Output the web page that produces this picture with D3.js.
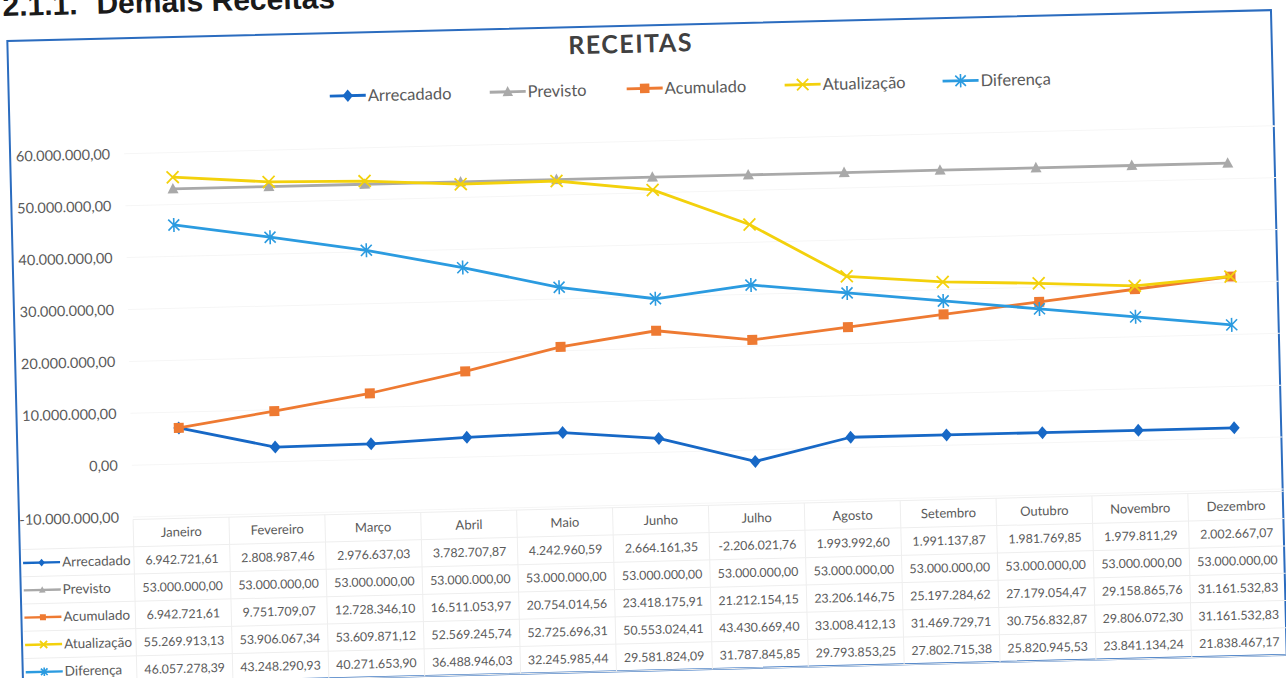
<!DOCTYPE html>
<html><head><meta charset="utf-8">
<script src="https://cdn.jsdelivr.net/npm/d3@7"></script>
<style>body{margin:0;background:#fff;} svg{display:block;}</style>
</head><body>
<svg id="c" width="1286" height="678"></svg>
<script>
// ---------- data ----------
const months = ["Janeiro","Fevereiro","Março","Abril","Maio","Junho","Julho","Agosto","Setembro","Outubro","Novembro","Dezembro"];
const arrecadado = [6942721.61, 2808987.46, 2976637.03, 3782707.87, 4242960.59, 2664161.35, -2206021.76, 1993992.60, 1991137.87, 1981769.85, 1979811.29, 2002667.07];
const previsto = [53000000, 53000000, 53000000, 53000000, 53000000, 53000000, 53000000, 53000000, 53000000, 53000000, 53000000, 53000000];
const acumulado = [6942721.61, 9751709.07, 12728346.10, 16511053.97, 20754014.56, 23418175.91, 21212154.15, 23206146.75, 25197284.62, 27179054.47, 29158865.76, 31161532.83];
const atualizacao = [55269913.13, 53906067.34, 53609871.12, 52569245.74, 52725696.31, 50553024.41, 43430669.40, 33008412.13, 31469729.71, 30756832.87, 29806072.30, 31161532.83];
const diferenca = [46057278.39, 43248290.93, 40271653.90, 36488946.03, 32245985.44, 29581824.09, 31787845.85, 29793853.25, 27802715.38, 25820945.53, 23841134.24, 21838467.17];
const seriesNames = ["Arrecadado","Previsto","Acumulado","Atualização","Diferença"];
const yTicks = [-10000000, 0, 10000000, 20000000, 30000000, 40000000, 50000000, 60000000];
const chartTitle = "RECEITAS";
const docHeadingNum = "2.1.1.";
const docHeadingText = "Demais Receitas";

// ---------- styles ----------
const seriesData = [arrecadado, previsto, acumulado, atualizacao, diferenca];
const colors = ["#1768c6", "#a9a9a9", "#ee7a32", "#f3d10c", "#2b9be0"];
const markers = ["diamond", "triangle", "square", "x", "star"];
const textColor = "#5a5a5a";
const font = "Lato, 'Open Sans', sans-serif";

const fmt = d3.formatLocale({decimal: ",", thousands: ".", grouping: [3], currency: ["", ""], minus: "-"}).format(",.2f");

const svg = d3.select("#c");
svg.append("rect").attr("width", 1286).attr("height", 678).attr("fill", "#fff");
const root = svg.append("g").attr("transform", "rotate(-1.4,173,189)");

// document heading
const head = root.append("text").attr("y", 12).attr("font-family", "'Liberation Sans', Arial, sans-serif")
  .attr("font-weight", "bold").attr("font-size", 30).attr("fill", "#1a1a1a");
head.append("tspan").attr("x", 7).text(docHeadingNum);
head.append("tspan").attr("x", 101).text(docHeadingText);

// chart border
root.append("rect").attr("x", 11).attr("y", 37).attr("width", 1264).attr("height", 645)
  .attr("fill", "none").attr("stroke", "#2b6cbf").attr("stroke-width", 2);

// title
root.append("text").attr("x", 634).attr("y", 64).attr("text-anchor", "middle")
  .attr("font-family", font).attr("font-weight", "bold").attr("font-size", 25)
  .attr("letter-spacing", 1.5).attr("fill", "#404040").text(chartTitle);

// scales
const x = d3.scaleBand().domain(months).range([125, 1276]);
const y = d3.scaleLinear().domain([-10000000, 60000000]).range([516, 152.6]);
const cx = m => x(m) + x.bandwidth() / 2;

// gridlines (very faint in the scan)
root.append("g").selectAll("line").data(yTicks).join("line")
  .attr("x1", 125).attr("x2", 1276).attr("y1", d => y(d)).attr("y2", d => y(d))
  .attr("stroke", "#f6f6f6").attr("stroke-width", 1);

// y axis
const yAxis = d3.axisLeft(y).tickValues(yTicks).tickSize(0).tickPadding(3).tickFormat(fmt);
const ya = root.append("g").attr("transform", "translate(114,0)").call(yAxis);
ya.select(".domain").remove();
ya.selectAll("text").attr("font-family", font).attr("font-size", 14.5).attr("fill", textColor);

// marker drawing
function marker(g, type, color, px, py, s) {
  s = s || 1;
  if (type === "diamond") {
    g.append("path").attr("d", `M${px},${py - 6.5 * s}L${px + 5.5 * s},${py}L${px},${py + 6.5 * s}L${px - 5.5 * s},${py}Z`).attr("fill", color);
  } else if (type === "triangle") {
    g.append("path").attr("d", `M${px},${py - 6 * s}L${px + 5.5 * s},${py + 4.5 * s}L${px - 5.5 * s},${py + 4.5 * s}Z`).attr("fill", color);
  } else if (type === "square") {
    g.append("rect").attr("x", px - 5 * s).attr("y", py - 5 * s).attr("width", 10 * s).attr("height", 10 * s).attr("fill", color);
  } else if (type === "x") {
    g.append("path").attr("d", `M${px - 6 * s},${py - 6 * s}L${px + 6 * s},${py + 6 * s}M${px + 6 * s},${py - 6 * s}L${px - 6 * s},${py + 6 * s}`)
      .attr("stroke", color).attr("stroke-width", 1.8).attr("fill", "none");
  } else if (type === "star") {
    g.append("path").attr("d", `M${px - 5.5 * s},${py - 5.5 * s}L${px + 5.5 * s},${py + 5.5 * s}M${px + 5.5 * s},${py - 5.5 * s}L${px - 5.5 * s},${py + 5.5 * s}M${px},${py - 7 * s}L${px},${py + 7 * s}`)
      .attr("stroke", color).attr("stroke-width", 1.6).attr("fill", "none");
  }
}

// series
const line = d3.line().x((d, i) => cx(months[i])).y(d => y(d));
seriesData.forEach((vals, k) => {
  const g = root.append("g");
  g.append("path").attr("d", line(vals)).attr("fill", "none").attr("stroke", colors[k])
    .attr("stroke-width", 2.8).attr("stroke-linejoin", "round");
  vals.forEach((v, i) => marker(g, markers[k], colors[k], cx(months[i]), y(v)));
});

// legend
const legendX = [332, 492, 629, 787, 945];
const legendY = 100;
seriesNames.forEach((n, k) => {
  const g = root.append("g");
  g.append("line").attr("x1", legendX[k]).attr("x2", legendX[k] + 36).attr("y1", legendY).attr("y2", legendY)
    .attr("stroke", colors[k]).attr("stroke-width", 2.8);
  marker(g, markers[k], colors[k], legendX[k] + 18, legendY, 0.95);
  g.append("text").attr("x", legendX[k] + 38).attr("y", legendY + 6).attr("font-family", font)
    .attr("font-size", 16.5).attr("fill", textColor).text(n);
});

// data table
const rowH = 27.3;
const headY = 532;
const tTop = headY - rowH / 2;
const tBottom = tTop + rowH * 6;
const tg = root.append("g");
d3.range(7).forEach(r => {
  const yy = tTop + r * rowH;
  tg.append("line").attr("x1", r === 0 ? 125 : 13).attr("x2", 1276).attr("y1", yy).attr("y2", yy)
    .attr("stroke", "#eeeeee").attr("stroke-width", 1);
});
months.forEach(m => {
  tg.append("line").attr("x1", x(m)).attr("x2", x(m)).attr("y1", tTop).attr("y2", tBottom)
    .attr("stroke", "#eeeeee").attr("stroke-width", 1);
});
// header
tg.selectAll("text.h").data(months).join("text").attr("class", "h")
  .attr("x", d => cx(d)).attr("y", headY + 4.5).attr("text-anchor", "middle")
  .attr("font-family", font).attr("font-size", 13).attr("fill", textColor).text(d => d);
// rows
seriesNames.forEach((n, k) => {
  const ry = headY + rowH * (k + 1);
  tg.append("line").attr("x1", 14).attr("x2", 51).attr("y1", ry).attr("y2", ry)
    .attr("stroke", colors[k]).attr("stroke-width", 2.4);
  marker(tg, markers[k], colors[k], 32.5, ry, 0.6);
  tg.append("text").attr("x", 53).attr("y", ry + 4.5).attr("font-family", font)
    .attr("font-size", 13.5).attr("fill", textColor).text(n);
  seriesData[k].forEach((v, i) => {
    tg.append("text").attr("x", cx(months[i])).attr("y", ry + 4.5).attr("text-anchor", "middle")
      .attr("font-family", font).attr("font-size", 12.4).attr("fill", textColor).text(fmt(v));
  });
});
</script>
</body></html>
